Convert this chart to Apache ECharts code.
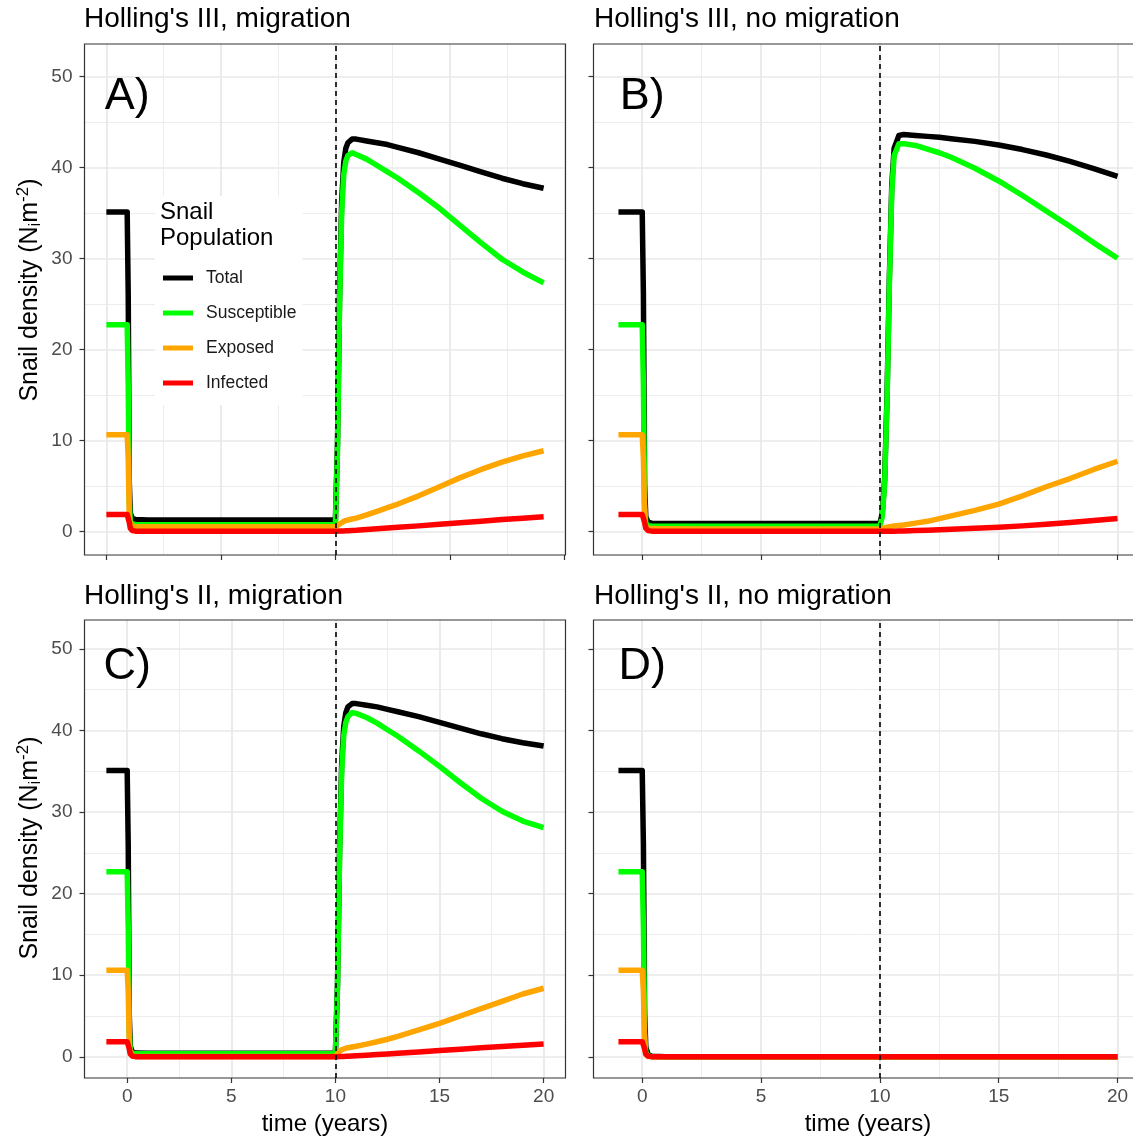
<!DOCTYPE html>
<html><head><meta charset="utf-8">
<script src="https://cdn.jsdelivr.net/npm/echarts@6/dist/echarts.min.js"></script>
<style>html,body{margin:0;padding:0;background:#fff}#c{width:1133px;height:1141px}</style>
</head><body><div id="c"></div><script>
// ---- data ----
const time = [-1, 0, 0.05, 0.1, 0.15, 0.25, 0.4, 1, 3, 5, 7, 9, 10, 10.1, 10.2, 10.3, 10.4, 10.5, 10.6, 10.8, 11, 11.5, 12, 12.5, 13, 14, 15, 16, 17, 18, 19, 20];

const totalA = [35.1, 35.1, 26, 5.5, 2.0, 1.4, 1.3, 1.25, 1.25, 1.25, 1.25, 1.25, 1.25, 9.7, 25.8, 36.2, 40.5, 42.1, 42.7, 43.1, 43.1, 42.9, 42.7, 42.5, 42.2, 41.6, 40.9, 40.2, 39.5, 38.8, 38.2, 37.7];
const susA   = [22.7, 22.7, 16, 3.2, 1.1, 0.8, 0.75, 0.72, 0.72, 0.72, 0.72, 0.72, 0.72, 9, 25, 35, 39.2, 40.7, 41.3, 41.6, 41.4, 40.9, 40.2, 39.5, 38.8, 37.2, 35.5, 33.6, 31.7, 29.9, 28.5, 27.3];
const expA   = [10.6, 10.6, 8, 1.6, 0.7, 0.55, 0.5, 0.5, 0.5, 0.5, 0.5, 0.5, 0.5, 0.65, 0.8, 0.95, 1.1, 1.2, 1.25, 1.35, 1.45, 1.8, 2.2, 2.6, 3.0, 3.9, 4.9, 5.9, 6.8, 7.6, 8.3, 8.85];
const infA   = [1.85, 1.85, 1.75, 1.0, 0.35, 0.08, 0.02, 0.01, 0.01, 0.01, 0.01, 0.01, 0.01, 0.02, 0.03, 0.04, 0.05, 0.06, 0.07, 0.1, 0.12, 0.2, 0.28, 0.36, 0.44, 0.6, 0.78, 0.95, 1.12, 1.3, 1.45, 1.6];

const totalB = [35.1, 35.1, 26, 5.2, 1.6, 1.0, 0.9, 0.85, 0.85, 0.85, 0.85, 0.85, 0.85, 2.0, 5.7, 14.8, 27.9, 38.0, 42.1, 43.5, 43.6, 43.5, 43.4, 43.3, 43.15, 42.85, 42.45, 41.95, 41.35, 40.65, 39.85, 39.0];
const susB   = [22.7, 22.7, 16, 3.0, 0.9, 0.62, 0.58, 0.56, 0.56, 0.56, 0.56, 0.56, 0.58, 1.6, 5.2, 14.2, 27.3, 37.3, 41.3, 42.6, 42.6, 42.4, 42.0, 41.6, 41.1, 39.9, 38.5, 36.9, 35.2, 33.5, 31.7, 30.0];
const expB   = [10.6, 10.6, 8, 1.5, 0.5, 0.35, 0.3, 0.28, 0.27, 0.27, 0.27, 0.27, 0.27, 0.3, 0.4, 0.45, 0.5, 0.55, 0.6, 0.65, 0.7, 0.9, 1.1, 1.4, 1.7, 2.3, 3.0, 3.9, 4.9, 5.8, 6.8, 7.7];
const infB   = [1.85, 1.85, 1.75, 1.0, 0.35, 0.08, 0.02, 0.01, 0, 0, 0, 0, 0, 0, 0.01, 0.01, 0.01, 0.02, 0.02, 0.03, 0.05, 0.08, 0.12, 0.17, 0.22, 0.33, 0.46, 0.6, 0.78, 0.97, 1.18, 1.4];

const totalC = [35.1, 35.1, 26, 5.2, 1.3, 0.55, 0.45, 0.42, 0.42, 0.42, 0.42, 0.42, 0.42, 8.9, 25.3, 35.9, 40.5, 42.2, 42.9, 43.3, 43.3, 43.1, 42.9, 42.6, 42.3, 41.7, 41.0, 40.3, 39.6, 39.0, 38.5, 38.1];
const susC   = [22.7, 22.7, 16, 3.0, 0.8, 0.4, 0.38, 0.38, 0.38, 0.38, 0.38, 0.38, 0.38, 8.5, 24.5, 34.9, 39.4, 41.0, 41.7, 42.2, 42.1, 41.6, 40.9, 40.1, 39.3, 37.5, 35.6, 33.6, 31.7, 30.1, 28.9, 28.1];
const expC   = [10.6, 10.6, 8, 1.5, 0.4, 0.1, 0.05, 0.03, 0.03, 0.03, 0.03, 0.03, 0.03, 0.4, 0.7, 0.85, 0.95, 1.05, 1.1, 1.2, 1.3, 1.55, 1.85, 2.15, 2.5, 3.3, 4.1, 5.0, 5.9, 6.8, 7.7, 8.4];
const infC   = [1.85, 1.85, 1.75, 1.0, 0.35, 0.08, 0.02, 0.01, 0.01, 0.01, 0.01, 0.01, 0.01, 0.02, 0.03, 0.04, 0.05, 0.06, 0.07, 0.1, 0.12, 0.19, 0.27, 0.35, 0.43, 0.59, 0.76, 0.93, 1.1, 1.27, 1.42, 1.57];

const totalD = [35.1, 35.1, 26, 5.5, 1.2, 0.25, 0.06, 0, 0, 0, 0, 0, 0, 0, 0, 0, 0, 0, 0, 0, 0, 0, 0, 0, 0, 0, 0, 0, 0, 0, 0, 0];
const susD   = [22.7, 22.7, 16, 3.0, 0.5, 0.1, 0.02, 0, 0, 0, 0, 0, 0, 0, 0, 0, 0, 0, 0, 0, 0, 0, 0, 0, 0, 0, 0, 0, 0, 0, 0, 0];
const expD   = [10.6, 10.6, 8, 1.5, 0.3, 0.05, 0.01, 0, 0, 0, 0, 0, 0, 0, 0, 0, 0, 0, 0, 0, 0, 0, 0, 0, 0, 0, 0, 0, 0, 0, 0, 0];
const infD   = [1.85, 1.85, 1.75, 1.0, 0.35, 0.08, 0.02, 0, 0, 0, 0, 0, 0, 0, 0, 0, 0, 0, 0, 0, 0, 0, 0, 0, 0, 0, 0, 0, 0, 0, 0, 0];

const seriesNames = ['Total', 'Susceptible', 'Exposed', 'Infected'];
const seriesColors = ['#000000', '#00FF00', '#FFA500', '#FF0000'];
const panelTitles = ["Holling's III, migration", "Holling's III, no migration", "Holling's II, migration", "Holling's II, no migration"];
const panelTags = ['A)', 'B)', 'C)', 'D)'];
const tagPosition = [0, 47.8];
const interventionTime = 10;
const xTickSets = [
  {min: -1, max: 21, interval: 5.5},
  {min: 0, max: 20, interval: 5},
  {min: 0, max: 20, interval: 5},
  {min: 0, max: 20, interval: 5}
];
const yTickSet = {min: 0, max: 50, interval: 10};
const xTitle = 'time (years)';
const legendTitle = 'Snail\nPopulation';

// ---- layout ----
const panelData = [[totalA, susA, expA, infA], [totalB, susB, expB, infB], [totalC, susC, expC, infC], [totalD, susD, expD, infD]];
const X_MIN = -2.05, X_MAX = 21.05, Y_MIN = -2.6, Y_MAX = 53.55;
const FONT = '"Liberation Sans", Arial, Helvetica, sans-serif';
const panelBoxes = [
  {left: 84.5, top: 44, width: 481, height: 511},
  {left: 593.5, top: 44, width: 549, height: 511},
  {left: 84.5, top: 620, width: 481, height: 458},
  {left: 593.5, top: 620, width: 549, height: 458}
];
const showXLabels = [false, false, true, true];
const showYLabels = [true, false, true, false];

const grids = [], xAxes = [], yAxes = [], series = [];
const tickStyle = {show: true, inside: false, length: 5, lineStyle: {color: '#333', width: 1.2}};
const majorSplit = {show: true, lineStyle: {color: '#e8e8e8', width: 1.7}};
const minorSplit = {show: true, lineStyle: {color: '#ebebeb', width: 0.9}};
const labelStyle = {fontSize: 19, color: '#4d4d4d', fontFamily: FONT};

panelBoxes.forEach((b, p) => {
  const gi = p * 3;
  const px = v => b.left + (v - X_MIN) / (X_MAX - X_MIN) * b.width;
  const py = v => b.top + (Y_MAX - v) / (Y_MAX - Y_MIN) * b.height;
  grids.push({left: b.left, top: b.top, width: b.width, height: b.height, show: true,
    borderColor: '#333', borderWidth: 1.2, backgroundColor: 'transparent', containLabel: false, outerBoundsMode: 'none', z: 3});
  xAxes.push({gridIndex: gi, type: 'value', min: X_MIN, max: X_MAX, show: false});
  yAxes.push({gridIndex: gi, type: 'value', min: Y_MIN, max: Y_MAX, show: false});
  const xs = xTickSets[p];
  grids.push({left: px(xs.min), width: px(xs.max) - px(xs.min), top: b.top, height: b.height, show: false, containLabel: false, outerBoundsMode: 'none'});
  xAxes.push({gridIndex: gi + 1, type: 'value', min: xs.min, max: xs.max, interval: xs.interval, position: 'bottom',
    axisLine: {show: false}, axisTick: tickStyle,
    axisLabel: Object.assign({show: showXLabels[p], margin: 9}, labelStyle),
    splitLine: majorSplit, minorTick: {show: false, splitNumber: 2}, minorSplitLine: minorSplit});
  yAxes.push({gridIndex: gi + 1, type: 'value', min: 0, max: 1, show: false});
  grids.push({left: b.left, width: b.width, top: py(yTickSet.max), height: py(yTickSet.min) - py(yTickSet.max), show: false, containLabel: false, outerBoundsMode: 'none'});
  xAxes.push({gridIndex: gi + 2, type: 'value', min: 0, max: 1, show: false});
  yAxes.push({gridIndex: gi + 2, type: 'value', min: yTickSet.min, max: yTickSet.max, interval: yTickSet.interval, position: 'left',
    axisLine: {show: false}, axisTick: tickStyle,
    axisLabel: Object.assign({show: showYLabels[p], margin: 12}, labelStyle),
    splitLine: majorSplit, minorTick: {show: false, splitNumber: 2}, minorSplitLine: minorSplit});

  panelData[p].forEach((vals, k) => {
    series.push({
      type: 'line', name: seriesNames[k], xAxisIndex: gi, yAxisIndex: gi,
      data: time.map((t, i) => [t, vals[i]]),
      showSymbol: false, symbol: 'none', color: seriesColors[k],
      itemStyle: {color: seriesColors[k]},
      lineStyle: {color: seriesColors[k], width: 5.5, cap: 'butt', join: 'round'},
      silent: true, animation: false, z: 2
    });
  });
  series.push({
    type: 'line', xAxisIndex: gi, yAxisIndex: gi, data: [], silent: true, z: 10, animation: false,
    markLine: {silent: true, symbol: ['none', 'none'], label: {show: false}, animation: false,
      lineStyle: {color: '#000', type: [5, 4], width: 1.6}, data: [{xAxis: interventionTime}]}
  });
});

const graphics = [];
const titlePos = [[84, 19], [594, 19], [84, 596], [594, 596]];
panelTitles.forEach((t, p) => graphics.push({type: 'text', x: titlePos[p][0], y: titlePos[p][1], z: 100,
  style: {text: t, fontSize: 28, fontFamily: FONT, fill: '#000', align: 'left', verticalAlign: 'middle'}}));
const richY = {
  sub: {fontSize: 17, fontFamily: FONT, fill: '#000', padding: [10, 0, 0, 0]},
  sup: {fontSize: 17, fontFamily: FONT, fill: '#000', padding: [0, 0, 13, 0]}
};
[[30, 290], [30, 848]].forEach(pos => graphics.push({type: 'text', x: pos[0], y: pos[1], rotation: Math.PI / 2, z: 100,
  style: {text: 'Snail density (N{sub|i}m{sup|-2})', rich: richY, fontSize: 25, fontFamily: FONT, fill: '#000', align: 'center', verticalAlign: 'middle'}}));
[[325, 1124], [868, 1124]].forEach(pos => graphics.push({type: 'text', x: pos[0], y: pos[1], z: 100,
  style: {text: xTitle, fontSize: 24, fontFamily: FONT, fill: '#000', align: 'center', verticalAlign: 'middle'}}));
graphics.push({type: 'text', x: 160, y: 199, z: 100,
  style: {text: legendTitle, fontSize: 24, lineHeight: 26, fontFamily: FONT, fill: '#000', align: 'left', verticalAlign: 'top'}});

const chart = echarts.init(document.getElementById('c'), null, {renderer: 'canvas'});
const option = {
  animation: false,
  backgroundColor: '#fff',
  grid: grids, xAxis: xAxes, yAxis: yAxes, series: series,
  legend: {show: true, data: seriesNames, orient: 'vertical', left: 155, top: 196,
    itemWidth: 30, itemHeight: 5, itemGap: 15, icon: 'rect', backgroundColor: '#fff',
    padding: [72, 6, 12, 8], selectedMode: false, z: 20,
    textStyle: {fontSize: 17.5, color: '#1a1a1a', fontFamily: FONT, lineHeight: 20, padding: [0, 0, 0, 8]}},
  graphic: graphics
};
chart.setOption(option);
// panel tags placed through each panel's data scales
panelTags.forEach((tag, p) => {
  const pt = chart.convertToPixel({xAxisIndex: p * 3, yAxisIndex: p * 3}, tagPosition);
  graphics.push({type: 'text', x: pt[0], y: pt[1], z: 100,
    style: {text: tag, fontSize: 45, fontFamily: FONT, fill: '#000', align: 'center', verticalAlign: 'middle'}});
});
chart.setOption({graphic: graphics});
</script></body></html>
